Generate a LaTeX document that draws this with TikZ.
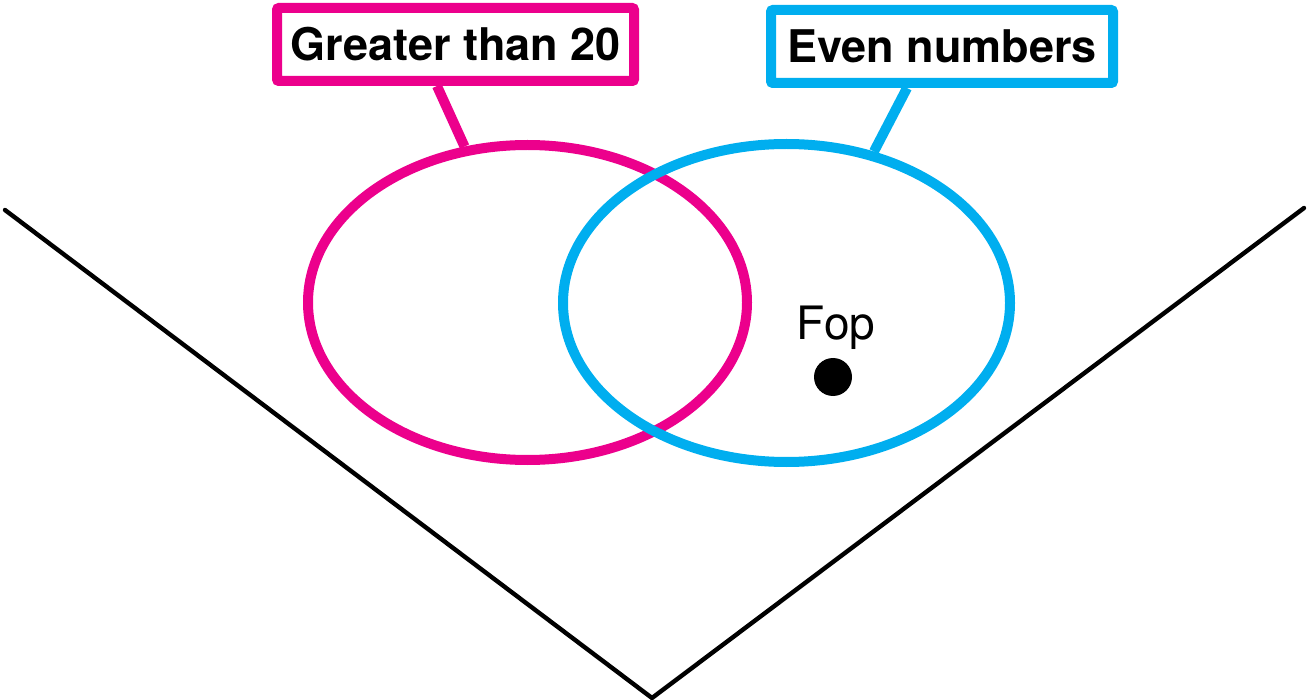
\documentclass[tikz,border=0pt]{standalone}
\usepackage{fontspec}
\setmainfont{TeX Gyre Heros}
\usetikzlibrary{positioning,
        shapes.geometric}
\definecolor{setpink}{HTML}{EC008C}
\definecolor{setblue}{HTML}{00AEEF}

\begin{document}
\begin{tikzpicture}[x=0.5pt,y=-0.5pt,
        setring/.style={ellipse,draw,line width=5pt,inner sep=0pt},
        labelbox/.style={rectangle,fill=white,line width=5pt,rounded corners=1pt,
            minimum height=36.5pt,inner sep=0pt,font=\fontsize{22.5}{26}\selectfont\bfseries}]
            \useasboundingbox (0,0) rectangle (1307,700);
            % the V underneath
            \coordinate (vleft) at (5,210);
            \coordinate (vtip) at (652,698);
            \coordinate (vright) at (1304,208);
            \draw [line width=2.2pt, line cap=round] (vleft) -- (vtip) -- (vright);

            \node [setring,draw=setpink,minimum width=219.5pt,minimum height=157.5pt] (big) at (527.5,302.5) {};
            \node [setring,draw=setblue,minimum width=223.5pt,minimum height=159pt] (even) at (786.5,303) {};

            \node [labelbox,draw=setpink,minimum width=178.5pt] (bigbox) at (455.5,44.5) {Greater than 20};
            \node [labelbox,draw=setblue,minimum width=171pt] (evenbox) at (942,46.5) {Even numbers};

            \draw [setpink, line width=5pt] ([xshift=-9.25pt]bigbox.south) -- (big.112);
            \draw [setblue, line width=5pt] ([xshift=-17.5pt]evenbox.south) -- (even.60.5);

            \node [circle,fill=black,minimum size=19pt,inner sep=0pt] (fop) at (833,377) {};
            \node [anchor=base,font=\fontsize{23}{27}\selectfont] (foplabel) at (836,340) {Fop};
        \end{tikzpicture}
\end{document}
